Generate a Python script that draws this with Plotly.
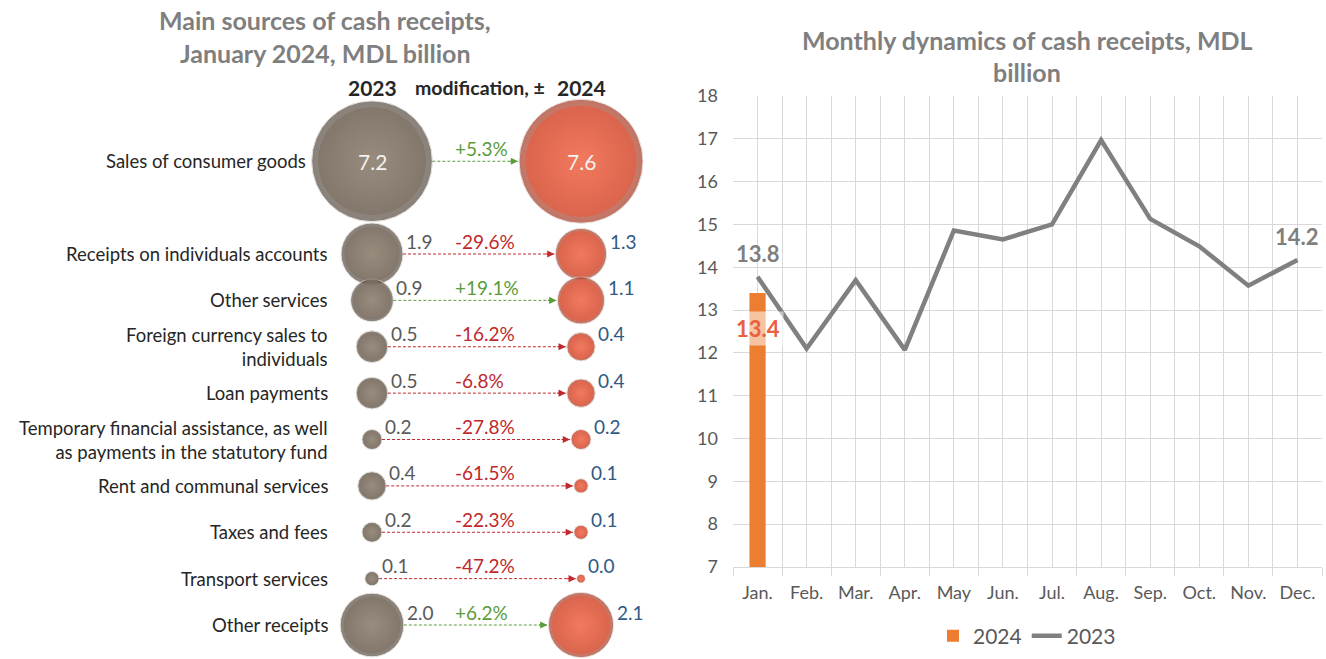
import math
import plotly.graph_objects as go

# ---------------- data ----------------
categories = [
    "Sales of consumer goods",
    "Receipts on individuals accounts",
    "Other services",
    "Foreign currency sales to<br>individuals",
    "Loan payments",
    "Temporary financial assistance, as well<br>as payments in the statutory fund",
    "Rent and communal services",
    "Taxes and fees",
    "Transport services",
    "Other receipts",
]
values_2023 = [7.2, 1.9, 0.9, 0.5, 0.5, 0.2, 0.4, 0.2, 0.1, 2.0]
values_2024 = [7.6, 1.3, 1.1, 0.4, 0.4, 0.2, 0.1, 0.1, 0.0, 2.1]
change_pct = [5.3, -29.6, 19.1, -16.2, -6.8, -27.8, -61.5, -22.3, -47.2, 6.2]

months = ["Jan.", "Feb.", "Mar.", "Apr.", "May", "Jun.", "Jul.", "Aug.", "Sep.", "Oct.", "Nov.", "Dec."]
monthly_2023 = [13.78, 12.1, 13.7, 12.07, 14.86, 14.65, 15.0, 16.97, 15.13, 14.49, 13.57, 14.17]
monthly_2024 = [13.4]

# ---------------- layout constants ----------------
W, H = 1326, 659
FONT = "Lato"
L_W = 663              # width of left panel (px)
COL23_PX, COL24_PX = 372, 581
PXU = COL24_PX - COL23_PX          # px per x unit on left axis
SLOT_PX, SLOT0_PX = 46.375, 161.25
row_slots = [0, 2, 3, 4, 5, 6, 7, 8, 9, 10]   # first row takes double space
LABEL_RIGHT_PX = 330
PCT_LEFT_PX = 453
D_MAX = 124
SIZE_FLOOR = 0.035
INNER = 0.80     # area fraction of inner (lighter) disc

all_vals = values_2023 + values_2024
sizeref = 2 * max(all_vals) / D_MAX ** 2


def radius_px(v):
    return math.sqrt(2 * max(v, SIZE_FLOOR) / sizeref) / 2


GRID = "#d9d9d9"
TXT = "#595959"
GREEN = "#5a9c3a"
RED = "#c0282d"

fig = go.Figure()

# ---------------- left panel: bubbles ----------------
# (column, values, rim colour, inner-edge colour, centre colour)
bubble_styles = [
    (0, values_2023, "#574c42", "#7f7264", "#8e8172"),
    (1, values_2024, "#a63b26", "#e35d41", "#f06c4e"),
]
for col, vals, rim, mid, center in bubble_styles:
    sizes = [max(v, SIZE_FLOOR) for v in vals]
    # radial gradient: marker.color = edge, gradient.color = centre
    fig.add_trace(go.Scatter(
        x=[col] * len(vals), y=row_slots, mode="markers",
        marker=dict(size=sizes, sizemode="area", sizeref=sizeref, color=rim,
                    gradient=dict(type="radial", color=center),
                    line=dict(color="rgba(225,220,214,0.95)", width=1)),
        xaxis="x2", yaxis="y2", showlegend=False, hoverinfo="skip"))
    fig.add_trace(go.Scatter(
        x=[col] * len(vals), y=row_slots, mode="markers",
        marker=dict(size=sizes, sizemode="area", sizeref=sizeref / INNER, color=mid,
                    gradient=dict(type="radial", color=center), line=dict(width=0)),
        xaxis="x2", yaxis="y2", showlegend=False, hoverinfo="skip"))

annotations = []
shapes = []

for i, cat in enumerate(categories):
    slot = row_slots[i]
    r23 = radius_px(values_2023[i])
    r24 = radius_px(values_2024[i])
    # category label
    right_px = min(LABEL_RIGHT_PX, COL23_PX - r23 - 4)
    annotations.append(dict(
        x=(right_px - COL23_PX) / PXU, y=slot, xref="x2", yref="y2",
        text=cat, showarrow=False, xanchor="right", yanchor="middle", align="right",
        font=dict(family=FONT, size=18.5, color="#262626")))
    # value labels
    for col, v, r, colr in [(0, values_2023[i], r23, TXT), (1, values_2024[i], r24, "#2f5a85")]:
        if 2 * r > 90:
            annotations.append(dict(
                x=col, y=slot, xref="x2", yref="y2", text=f"{v:.1f}", showarrow=False,
                xanchor="center", yanchor="middle",
                font=dict(family=FONT, size=21, color="#f4f1ee")))
        else:
            annotations.append(dict(
                x=col, y=slot, xref="x2", yref="y2", text=f"{v:.1f}", showarrow=False,
                xanchor="left", yanchor="middle", xshift=r + 1, yshift=13,
                font=dict(family=FONT, size=19, color=colr)))
    # arrow
    c = GREEN if change_pct[i] >= 0 else RED
    x0 = r23 / PXU
    x1 = 1 - (r24 + 1) / PXU
    shapes.append(dict(type="line", xref="x2", yref="y2", x0=x0, x1=x1, y0=slot, y1=slot,
                       line=dict(color=c, width=1, dash="3px,2px")))
    annotations.append(dict(
        x=x1, y=slot, xref="x2", yref="y2", text="", showarrow=True, ax=-10, ay=0,
        arrowhead=2, arrowsize=1.2, arrowwidth=1.2, arrowcolor=c, standoff=0))
    # percent label
    annotations.append(dict(
        x=(PCT_LEFT_PX - COL23_PX) / PXU, y=slot, xref="x2", yref="y2",
        text=f"{change_pct[i]:+.1f}%", showarrow=False, xanchor="left", yanchor="middle",
        yshift=13, font=dict(family=FONT, size=19, color=c)))

# column headers
for x, t, s in [(0, "2023", 21), ((480 - COL23_PX) / PXU, "modification, ±", 19.5), (1, "2024", 21)]:
    annotations.append(dict(x=x, y=1 - 88 / H, xref="x2", yref="paper", text=f"<b>{t}</b>",
                            showarrow=False, xanchor="center", yanchor="middle",
                            font=dict(family=FONT, size=s, color="#262626")))

# titles
for txt, cx, cy, s in [
    ("Main sources of cash receipts,", 325, 20, 25),
    ("January 2024, MDL billion", 325, 53, 25),
    ("Monthly dynamics of cash receipts, MDL", 1027, 40, 25),
    ("billion", 1027, 72, 25),
]:
    annotations.append(dict(x=cx / W, y=1 - cy / H, xref="paper", yref="paper",
                            text=f"<b>{txt}</b>", showarrow=False, xanchor="center",
                            yanchor="middle", font=dict(family=FONT, size=s, color="#7f7f7f")))

# ---------------- right panel ----------------
xs = list(range(len(months)))
fig.add_trace(go.Bar(x=xs[:len(monthly_2024)], y=monthly_2024, name="2024",
                     marker=dict(color="#ed7d31", line=dict(width=0)), width=0.33,
                     xaxis="x", yaxis="y", hoverinfo="skip"))
fig.add_trace(go.Scatter(x=xs, y=monthly_2023, name="2023", mode="lines",
                         line=dict(color="#808080", width=4.5),
                         xaxis="x", yaxis="y", hoverinfo="skip"))

for xi in [0, len(months) - 1]:
    annotations.append(dict(x=xi, y=monthly_2023[xi], xref="x", yref="y",
                            text=f"<b>{monthly_2023[xi]:.1f}</b>", showarrow=False,
                            yanchor="middle", yshift=23,
                            font=dict(family=FONT, size=22, color="#7f7f7f")))
annotations.append(dict(x=0, y=monthly_2024[0], xref="x", yref="y",
                        text=f"<b>{monthly_2024[0]:.1f}</b>", showarrow=False,
                        yanchor="top", yshift=-18, bgcolor="rgba(255,255,255,0.55)",
                        borderpad=3, font=dict(family=FONT, size=22, color="#e8603e")))

fig.update_layout(
    width=W, height=H, margin=dict(l=0, r=0, t=0, b=0),
    paper_bgcolor="white", plot_bgcolor="white",
    font=dict(family=FONT, color=TXT),
    xaxis=dict(domain=[733 / W, 1322 / W], range=[-0.5, len(months) - 0.5],
               tickmode="array", tickvals=xs, ticktext=months,
               showgrid=True, gridcolor=GRID, gridwidth=1, zeroline=False,
               showline=True, linecolor=GRID, ticks="", ticklabelstandoff=9,
               tickfont=dict(family=FONT, size=18, color=TXT),
               minor=dict(tickmode="array", tickvals=[k - 0.5 for k in range(len(months) + 1)],
                          showgrid=True, gridcolor=GRID, gridwidth=1,
                          ticks="outside", ticklen=8, tickcolor=GRID),
               automargin=False, fixedrange=True),
    yaxis=dict(domain=[1 - 567 / H, 1 - 96 / H], range=[7, 18], dtick=1,
               showgrid=True, gridcolor=GRID, zeroline=False, showline=False,
               ticks="", ticklabelstandoff=14,
               tickfont=dict(family=FONT, size=18, color=TXT), automargin=False),
    xaxis2=dict(domain=[0, L_W / W], range=[-COL23_PX / PXU, (L_W - COL23_PX) / PXU],
                visible=False, fixedrange=True),
    yaxis2=dict(domain=[0, 1], range=[(H - SLOT0_PX) / SLOT_PX, -SLOT0_PX / SLOT_PX],
                visible=False, fixedrange=True, anchor="x2"),
    legend=dict(orientation="h", x=1027 / W, xanchor="center", y=1 - 636 / H,
                yanchor="middle", font=dict(family=FONT, size=21, color=TXT),
                itemwidth=30, traceorder="normal"),
    annotations=annotations, shapes=shapes, showlegend=True,
)

fig.write_html("out.html", config={"displayModeBar": False},
               post_script="document.body.style.margin='0';document.body.style.overflow='hidden';")
